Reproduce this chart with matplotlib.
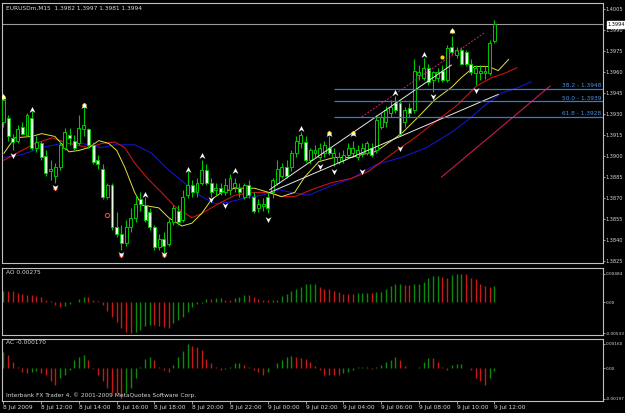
import matplotlib
matplotlib.use("Agg")
import matplotlib.pyplot as plt
from matplotlib.path import Path

# ---- EURUSD M15 bars (8 Jul 10:00 .. 9 Jul 12:00) ----
opens = [1.3924, 1.3927, 1.3913, 1.3911, 1.3921, 1.3915, 1.3927, 1.3906, 1.3909, 1.3900,
         1.3889, 1.3886, 1.3892, 1.3906, 1.3915, 1.3911, 1.3909, 1.3919, 1.3919, 1.3908,
         1.3897, 1.3891, 1.3871, 1.3879, 1.3849, 1.3844, 1.3838, 1.3849, 1.3856, 1.3869,
         1.3865, 1.3860, 1.3849, 1.3835, 1.3841, 1.3837, 1.3853, 1.3861, 1.3854, 1.3872,
         1.3879, 1.3874, 1.3881, 1.3890, 1.3881, 1.3876, 1.3877, 1.3874, 1.3876, 1.3878,
         1.3877, 1.3871, 1.3879, 1.3871, 1.3863, 1.3864, 1.3871, 1.3874, 1.3881, 1.3886,
         1.3892, 1.3892, 1.3902, 1.3909, 1.3910, 1.3897, 1.3902, 1.3899, 1.3902, 1.3906,
         1.3899, 1.3896, 1.3897, 1.3901, 1.3902, 1.3899, 1.3902, 1.3902, 1.3906, 1.3904,
         1.3921, 1.3924, 1.3931, 1.3938, 1.3938, 1.3924, 1.3934, 1.3933, 1.3958, 1.3956,
         1.3963, 1.3954, 1.3956, 1.3961, 1.3954, 1.3978, 1.3972, 1.3976, 1.3974, 1.3966,
         1.3959, 1.3959, 1.3959, 1.3959, 1.3982]
highs = [1.3944, 1.3929, 1.3916, 1.3922, 1.3924, 1.3931, 1.3932, 1.3914, 1.3911, 1.3904,
         1.3897, 1.3895, 1.3911, 1.3920, 1.3920, 1.3915, 1.3929, 1.3937, 1.3920, 1.3910,
         1.3901, 1.3894, 1.3881, 1.3881, 1.3860, 1.3851, 1.3854, 1.3863, 1.3872, 1.3874,
         1.3871, 1.3863, 1.3851, 1.3844, 1.3846, 1.3856, 1.3865, 1.3865, 1.3876, 1.3889,
         1.3883, 1.3884, 1.3897, 1.3894, 1.3884, 1.3881, 1.3881, 1.3884, 1.3887, 1.3884,
         1.3881, 1.3881, 1.3883, 1.3874, 1.3869, 1.3870, 1.3874, 1.3884, 1.3897, 1.3895,
         1.3897, 1.3904, 1.3914, 1.3917, 1.3914, 1.3906, 1.3908, 1.3909, 1.3911, 1.3914,
         1.3906, 1.3903, 1.3904, 1.3909, 1.3911, 1.3908, 1.3909, 1.3911, 1.3909, 1.3929,
         1.3931, 1.3936, 1.3940, 1.3943, 1.3940, 1.3935, 1.3938, 1.3969, 1.3965, 1.3970,
         1.3966, 1.3961, 1.3963, 1.3965, 1.3979, 1.3986, 1.3978, 1.3978, 1.3976, 1.3969,
         1.3965, 1.3965, 1.3964, 1.3983, 1.3997]
lows = [1.3921, 1.3911, 1.3904, 1.3909, 1.3915, 1.3914, 1.3904, 1.3903, 1.3897, 1.3886,
        1.3883, 1.3881, 1.3890, 1.3904, 1.3908, 1.3904, 1.3908, 1.3914, 1.3906, 1.3894,
        1.3891, 1.3869, 1.3869, 1.3847, 1.3842, 1.3833, 1.3836, 1.3846, 1.3853, 1.3861,
        1.3853, 1.3847, 1.3833, 1.3833, 1.3831, 1.3836, 1.3851, 1.3851, 1.3853, 1.3870,
        1.3871, 1.3871, 1.3879, 1.3879, 1.3871, 1.3872, 1.3872, 1.3872, 1.3872, 1.3874,
        1.3871, 1.3869, 1.3870, 1.3859, 1.3860, 1.3861, 1.3859, 1.3870, 1.3879, 1.3884,
        1.3884, 1.3889, 1.3899, 1.3906, 1.3896, 1.3894, 1.3899, 1.3897, 1.3899, 1.3901,
        1.3893, 1.3894, 1.3895, 1.3899, 1.3899, 1.3897, 1.3899, 1.3901, 1.3899, 1.3902,
        1.3919, 1.3921, 1.3928, 1.3931, 1.3914, 1.3921, 1.3928, 1.3931, 1.3954, 1.3954,
        1.3951, 1.3946, 1.3953, 1.3953, 1.3953, 1.3972, 1.3970, 1.3965, 1.3964, 1.3958,
        1.3951, 1.3954, 1.3955, 1.3958, 1.3981]
closes = [1.3940, 1.3914, 1.3910, 1.3919, 1.3916, 1.3929, 1.3906, 1.3910, 1.3899, 1.3888,
          1.3891, 1.3892, 1.3908, 1.3917, 1.3913, 1.3906, 1.3920, 1.3922, 1.3908, 1.3896,
          1.3894, 1.3871, 1.3879, 1.3849, 1.3844, 1.3838, 1.3849, 1.3856, 1.3866, 1.3866,
          1.3854, 1.3849, 1.3835, 1.3841, 1.3836, 1.3853, 1.3863, 1.3853, 1.3871, 1.3879,
          1.3874, 1.3881, 1.3890, 1.3881, 1.3874, 1.3877, 1.3874, 1.3879, 1.3884, 1.3881,
          1.3874, 1.3879, 1.3872, 1.3861, 1.3866, 1.3866, 1.3863, 1.3883, 1.3891, 1.3892,
          1.3886, 1.3902, 1.3911, 1.3915, 1.3897, 1.3904, 1.3904, 1.3906, 1.3908, 1.3902,
          1.3902, 1.3899, 1.3901, 1.3906, 1.3906, 1.3904, 1.3906, 1.3909, 1.3901, 1.3926,
          1.3928, 1.3933, 1.3935, 1.3933, 1.3916, 1.3933, 1.3931, 1.3961, 1.3960, 1.3963,
          1.3953, 1.3960, 1.3960, 1.3954, 1.3977, 1.3974, 1.3976, 1.3966, 1.3966, 1.3960,
          1.3963, 1.3961, 1.3961, 1.3981, 1.3994]

# ---- Alligator lines (bar position, price) ----
lips_x = [0.1, 2.4, 6.0, 8.1, 10.9, 13.9, 16.0, 18.1, 20.2, 22.3, 24.0, 25.7, 27.8, 29.3,
          32.9, 35.0, 37.8, 39.9, 42.0, 44.1, 46.2, 49.0, 53.2, 56.2, 58.9, 61.7, 63.8,
          66.8, 70.1, 73.7, 75.9, 78.6, 80.1, 84.3, 87.9, 91.3, 94.9, 97.0, 99.8, 102.7,
          104.8, 107.0]
lips_y = [1.3902, 1.3913, 1.3914, 1.3916, 1.3914, 1.3903, 1.3904, 1.3906, 1.3911, 1.3909,
          1.3904, 1.3892, 1.3874, 1.3865, 1.3863, 1.3856, 1.3850, 1.3852, 1.3859, 1.3869,
          1.3874, 1.3877, 1.3877, 1.3874, 1.3871, 1.3874, 1.3885, 1.3896, 1.3899, 1.3899,
          1.3901, 1.3903, 1.3906, 1.3916, 1.3928, 1.3940, 1.3949, 1.3956, 1.3964, 1.3964,
          1.3961, 1.3969]
teeth_x = [0.1, 3.9, 6.7, 10.3, 13.9, 18.1, 20.8, 23.6, 25.7, 27.8, 30.8, 33.5, 36.3,
           39.9, 42.0, 45.6, 49.0, 53.2, 56.2, 58.9, 61.7, 65.3, 69.5, 73.7, 77.3, 80.1,
           83.3, 87.5, 91.7, 96.0, 100.2, 103.4, 106.1, 108.7]
teeth_y = [1.3897, 1.3904, 1.3909, 1.3913, 1.3909, 1.3906, 1.3909, 1.3910, 1.3906, 1.3895,
           1.3883, 1.3874, 1.3864, 1.3856, 1.3859, 1.3866, 1.3872, 1.3874, 1.3874, 1.3871,
           1.3871, 1.3876, 1.3881, 1.3884, 1.3889, 1.3896, 1.3904, 1.3914, 1.3925, 1.3936,
           1.3950, 1.3956, 1.3959, 1.3963]
jaw_x = [0.1, 3.9, 8.1, 12.4, 16.6, 20.8, 23.6, 27.8, 31.4, 35.0, 39.3, 42.0, 44.8, 47.7,
         51.1, 54.7, 58.3, 61.0, 64.6, 68.9, 73.7, 79.0, 84.3, 89.6, 94.9, 98.5, 101.9,
         105.5, 109.1, 111.8]
jaw_y = [1.3899, 1.3901, 1.3906, 1.3909, 1.3909, 1.3906, 1.3908, 1.3908, 1.3902, 1.3890,
         1.3878, 1.3871, 1.3866, 1.3867, 1.3870, 1.3872, 1.3876, 1.3874, 1.3872, 1.3878,
         1.3884, 1.3894, 1.3899, 1.3906, 1.3917, 1.3926, 1.3936, 1.3945, 1.3949, 1.3953]

# ---- fractals ----
up_frac_x = [0, 6, 17, 30, 39, 42, 49, 63, 69, 74, 83, 89, 95]
up_frac_y = [1.3942, 1.3933, 1.3936, 1.3872, 1.3890, 1.3900, 1.3889, 1.3919, 1.3916,
             1.3916, 1.3945, 1.3972, 1.3989]
up_frac_hot = [0, 17, 69, 74, 95]
dn_frac_x = [2, 11, 25, 34, 44, 47, 56, 67, 70, 76, 84, 91, 100]
dn_frac_y = [1.3901, 1.3878, 1.3830, 1.3830, 1.3869, 1.3865, 1.3855, 1.3893, 1.3889,
             1.3889, 1.3906, 1.3943, 1.3947]
dn_frac_hot = [11, 25, 34]

# ---- drawn objects ----
trend_lines = [((56.4, 1.3876), (94.9, 1.3965)), ((56.4, 1.3874), (104.8, 1.3944))]
channel_dotted = [((75.9, 1.3928), (101.9, 1.3988))]
channel_solid = [((92.8, 1.3885), (115.8, 1.3950))]
fib_levels = [38.2, 50.0, 61.8]
fib_prices = [1.3948, 1.3939, 1.3928]
fib_start = 70.1

# ---- Awesome / Accelerator oscillators ----
ao = [0.00183, 0.00183, 0.00182, 0.00155, 0.00138, 0.00122, 0.00120, 0.00111, 0.00094, 0.00028,
      0.00017, -0.00055, -0.00083, -0.00072, -0.00028, -0.00005, 0.00055, 0.00083, 0.00080, 0.00044,
      0.00017, -0.00055, -0.00149, -0.00249, -0.00332, -0.00442, -0.00514, -0.00533, -0.00514, -0.00470,
      -0.00415, -0.00387, -0.00398, -0.00415, -0.00431, -0.00435, -0.00360, -0.00304, -0.00249, -0.00166,
      -0.00083, -0.00028, -0.00011, 0.00055, 0.00050, 0.00066, 0.00068, 0.00044, 0.00039, 0.00072,
      0.00094, 0.00122, 0.00118, 0.00083, 0.00055, 0.00039, 0.00036, 0.00038, 0.00044, 0.00111,
      0.00138, 0.00183, 0.00221, 0.00260, 0.00304, 0.00306, 0.00308, 0.00265, 0.00221, 0.00219,
      0.00194, 0.00166, 0.00138, 0.00136, 0.00134, 0.00149, 0.00151, 0.00153, 0.00150, 0.00166,
      0.00177, 0.00221, 0.00277, 0.00304, 0.00306, 0.00293, 0.00290, 0.00304, 0.00306, 0.00348,
      0.00415, 0.00437, 0.00440, 0.00426, 0.00415, 0.00459, 0.00470, 0.00484, 0.00470, 0.00415,
      0.00387, 0.00315, 0.00277, 0.00262, 0.00275]
ac = [0.00105, 0.00084, 0.00042, 0.00011, -0.00021, -0.00032, -0.00021, -0.00017, -0.00032, -0.00042,
      -0.00084, -0.00105, -0.00063, -0.00042, -0.00011, 0.00053, 0.00074, 0.00084, 0.00053, -0.00002,
      -0.00042, -0.00084, -0.00126, -0.00158, -0.00160, -0.00195, -0.00158, -0.00126, -0.00063, 0.00011,
      0.00063, 0.00074, 0.00053, 0.00011, -0.00011, -0.00021, 0.00021, 0.00074, 0.00116, 0.00158,
      0.00147, 0.00141, 0.00120, 0.00063, 0.00032, 0.00011, -0.00011, -0.00006, 0.00011, 0.00032,
      0.00036, 0.00021, 0.00006, -0.00011, -0.00021, -0.00042, -0.00021, 0.00001, 0.00032, 0.00053,
      0.00074, 0.00078, 0.00074, 0.00068, 0.00063, 0.00042, 0.00015, -0.00011, -0.00042, -0.00043,
      -0.00044, -0.00045, -0.00032, -0.00021, -0.00011, 0.00006, 0.00007, 0.00008, -0.00006, 0.00011,
      0.00021, 0.00042, 0.00053, 0.00074, 0.00053, 0.00015, 0.00002, 0.00003, 0.00011, 0.00042,
      0.00069, 0.00068, 0.00042, 0.00011, -0.00011, 0.00021, 0.00027, 0.00028, 0.00005, -0.00011,
      -0.00063, -0.00084, -0.00105, -0.00063, -0.00017]

time_labels = ["8 Jul 2009", "8 Jul 12:00", "8 Jul 14:00", "8 Jul 16:00", "8 Jul 18:00",
               "8 Jul 20:00", "8 Jul 22:00", "9 Jul 00:00", "9 Jul 02:00", "9 Jul 04:00",
               "9 Jul 06:00", "9 Jul 08:00", "9 Jul 10:00", "9 Jul 12:00"]

W, H = 625, 413
FG = "#d8d8d8"
GRID = "#c0c0c0"
CANDLE = "#00c800"
FS = 4.2
YFS = 3.6
SUBFS = 3.1

fig = plt.figure(figsize=(W / 100, H / 100), dpi=100, facecolor="black")


def panel(top, bottom, yfs):
    ax = fig.add_axes([2 / W, 1 - bottom / H, 601 / W, (bottom - top) / H])
    ax.set_facecolor("black")
    for s in ax.spines.values():
        s.set_color(GRID)
        s.set_linewidth(0.8)
    ax.set_xlim(-0.3, 127.0)
    ax.yaxis.tick_right()
    ax.tick_params(axis="y", colors=FG, labelsize=yfs, length=1.5, width=0.5, pad=0.6)
    ax.tick_params(axis="x", bottom=False, labelbottom=False)
    return ax


ax = panel(3, 263, YFS)
ao_ax = panel(268, 335, SUBFS)
ac_ax = panel(339, 401, SUBFS)

# ---- candles ----
n = len(closes)
xs = list(range(n))
ax.vlines(xs, lows, highs, color=CANDLE, lw=0.8, zorder=3)
for i in xs:
    o, c = opens[i], closes[i]
    bottom = min(o, c)
    h = max(abs(c - o), 0.00002)
    face = "black" if c >= o else "#e8ffe8"
    ax.bar(i, h, bottom=bottom, width=0.62, color=face, edgecolor=CANDLE, lw=0.7, zorder=4)

# Alligator
ax.plot(jaw_x, jaw_y, color="#1414c8", lw=0.8, zorder=2)
ax.plot(teeth_x, teeth_y, color="#c81414", lw=0.8, zorder=2)
ax.plot(lips_x, lips_y, color="#e0e040", lw=0.7, zorder=2)

# trend lines / channel
for (x0, y0), (x1, y1) in trend_lines:
    ax.plot([x0, x1], [y0, y1], color="#e8e8e8", lw=0.7, zorder=5)
for (x0, y0), (x1, y1) in channel_dotted:
    ax.plot([x0, x1], [y0, y1], color="#d0207a", lw=0.7, ls=(0, (2, 1.5)), zorder=5)
for (x0, y0), (x1, y1) in channel_solid:
    ax.plot([x0, x1], [y0, y1], color="#c8185a", lw=0.8, zorder=5)

# fibonacci levels
for lvl, p in zip(fib_levels, fib_prices):
    ax.hlines(p, fib_start, 127.0, color="#3c78c8", lw=0.9, zorder=5)
    ax.text(126.6, p + 0.00003, f"{lvl:.1f} - {p:.4f}", color="#4a8ee0", fontsize=FS,
            ha="right", va="bottom", zorder=6)

# fractals
up_arrow = Path([(0, 1), (0.85, -0.7), (0, -0.15), (-0.85, -0.7), (0, 1)],
                [Path.MOVETO, Path.LINETO, Path.LINETO, Path.LINETO, Path.CLOSEPOLY])
dn_arrow = Path([(0, -1), (0.85, 0.7), (0, 0.15), (-0.85, 0.7), (0, -1)],
                [Path.MOVETO, Path.LINETO, Path.LINETO, Path.LINETO, Path.CLOSEPOLY])
for x, y in zip(up_frac_x, up_frac_y):
    if x in up_frac_hot:
        ax.plot(x, y + 0.00005, "o", ms=3.2, color="#ffe000", mec="none", zorder=6)
    ax.plot(x, y, marker=up_arrow, ms=5, color="white", mec="none", zorder=7)
for x, y in zip(dn_frac_x, dn_frac_y):
    if x in dn_frac_hot:
        ax.plot(x, y - 0.00005, "o", ms=3.2, color="#ff5020", mec="none", zorder=6)
    ax.plot(x, y, marker=dn_arrow, ms=5, color="white", mec="none", zorder=7)
ax.plot(22, 1.3858, "o", ms=3, mfc="none", mec="#ff4020", mew=0.8, zorder=6)
ax.plot(93, 1.3971, "o", ms=3, color="#ffd000", mec="none", zorder=6)

# current price line
last = closes[-1]
ax.axhline(last, color="#9a9a9a", lw=0.8, zorder=1)
ax.text(127.9, last, f"{last:.4f}", color="black", fontsize=YFS, va="center", ha="left",
        bbox=dict(boxstyle="square,pad=0.12", fc="white", ec="white"), zorder=8,
        clip_on=False)

ax.set_ylim(1.38236, 1.40093)
pticks = [1.4005 - 0.0015 * k for k in range(13)]
ax.set_yticks(pticks)
ax.set_yticklabels([f"{p:.4f}" for p in pticks], color=FG)
ax.text(0.6, 1.40055, "EURUSDm,M15  1.3982 1.3997 1.3981 1.3994", color=FG,
        fontsize=FS, va="center", ha="left")

# AO
ao_col = ["#0a8a0a" if k == 0 or ao[k] > ao[k - 1] else "#c81818" for k in range(n)]
ao_ax.vlines(xs, 0, ao, colors=ao_col, lw=1.0)
ao_ax.set_ylim(-0.0056, 0.0058)
ao_ax.set_yticks([0.00484, 0.0, -0.00533])
ao_ax.set_yticklabels(["0.00484", "0.00", "-0.00533"], color=FG)
ao_ax.text(0.6, 0.0051, "AO 0.00275", color=FG, fontsize=FS, va="center")

# AC
ac_col = ["#0a8a0a" if k == 0 or ac[k] > ac[k - 1] else "#c81818" for k in range(n)]
ac_ax.vlines(xs, 0, ac, colors=ac_col, lw=1.0)
ac_ax.set_ylim(-0.00212, 0.00191)
ac_ax.set_yticks([0.00160, 0.0, -0.00197])
ac_ax.set_yticklabels(["0.00160", "0.00", "-0.00197"], color=FG)
ac_ax.text(0.6, 0.00165, "AC -0.000170", color=FG, fontsize=FS, va="center")
ac_ax.text(0.6, -0.00172, "Interbank FX Trader 4, \u00a9 2001-2009 MetaQuotes Software Corp.",
           color=FG, fontsize=FS, va="center")

ac_ax.tick_params(axis="x", bottom=True, labelbottom=True, colors=FG, labelsize=FS,
                  length=2, width=0.5, pad=1)
ac_ax.set_xticks(list(range(0, n, 8)))
ac_ax.set_xticklabels(time_labels, ha="left", color=FG)

fig.savefig("out.png", dpi=100, facecolor="black")
